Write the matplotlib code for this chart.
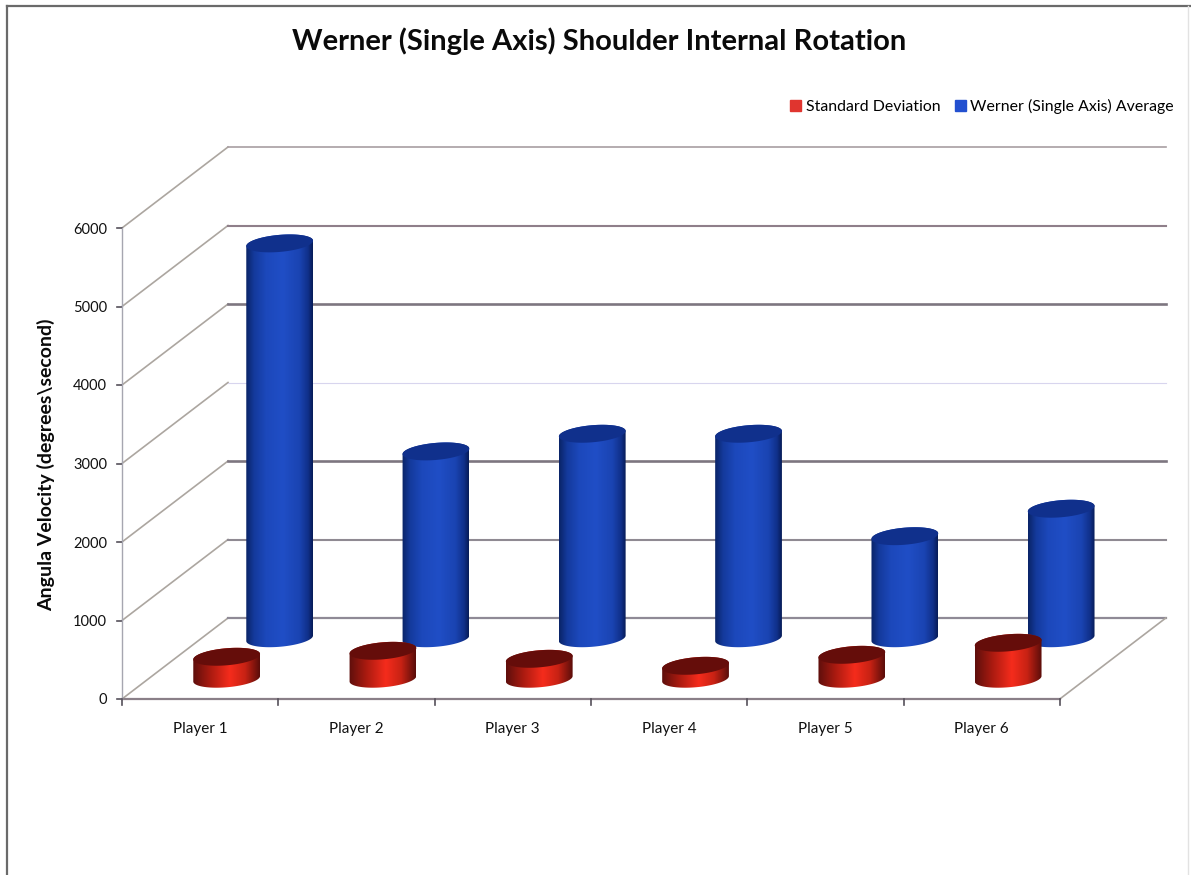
import numpy as np
import matplotlib
matplotlib.use('Agg')
import matplotlib.pyplot as plt
from matplotlib.colors import LinearSegmentedColormap
from matplotlib.patches import Patch, Polygon

plt.rcParams['font.family'] = ['Lato', 'DejaVu Sans']

players = ['Player 1', 'Player 2', 'Player 3', 'Player 4', 'Player 5', 'Player 6']
werner_avg = [5030, 2380, 2605, 2605, 1300, 1650]
std_dev = [280, 356, 254, 165, 305, 458]
y_ticks = [0, 1000, 2000, 3000, 4000, 5000, 6000]

# pixel geometry of the fake 3d box
x0 = 122
y0 = 699
cat_w = 156.3
px_per_unit = 78.5 / 1000
depth_x = 106
depth_y = 81


def project(cat, value, depth):
    # cat in category widths, value in data units, depth 0 (front) to 1 (back)
    return x0 + cat * cat_w + depth * depth_x, y0 - value * px_per_unit - depth * depth_y


def ellipse(cx, cy, a=33.5, b=8.5, angle=5):
    t = np.linspace(0, 2 * np.pi, 121)
    r = np.radians(angle)
    ex = a * np.cos(t)
    ey = b * np.sin(t)
    return cx + ex * np.cos(r) + ey * np.sin(r), cy - ex * np.sin(r) + ey * np.cos(r)


def cylinder(ax, i, value, depth, cmap, top_color, z):
    cx, base = project(i + 0.5, 0, depth)
    _, top = project(i + 0.5, value, depth)
    bx, by = ellipse(cx, base)
    tx, ty = ellipse(cx, top)
    # side outline: far half of the top joined to the near half of the base
    far = tx[60:121]
    far_y = ty[60:121]
    near = bx[0:61]
    near_y = by[0:61]
    body = Polygon(np.column_stack([np.r_[near, far], np.r_[near_y, far_y]]),
                   closed=True, facecolor='none', edgecolor='none', zorder=z)
    ax.add_patch(body)
    grad = np.linspace(0, 1, 200).reshape(1, -1)
    im = ax.imshow(grad, cmap=cmap, aspect='auto', zorder=z, interpolation='bilinear',
                   extent=[cx - 33.5, cx + 33.5, base + 12, top - 12])
    im.set_clip_path(body)
    ax.fill(tx, ty, color=top_color, lw=0, zorder=z + 0.1)


blue_map = LinearSegmentedColormap.from_list(
    'blue', [(0, '#0a2468'), (0.12, '#143a9c'), (0.3, '#1c48bb'), (0.55, '#204ec6'),
             (0.8, '#1a44b2'), (0.93, '#10308a'), (1, '#071c58')])
red_map = LinearSegmentedColormap.from_list(
    'red', [(0, '#5e0f0c'), (0.25, '#a81a10'), (0.55, '#f52c1c'), (0.78, '#c82214'), (1, '#5a0d0a')])

fig = plt.figure(figsize=(11.91, 8.75), dpi=100)
ax = fig.add_axes([0, 0, 1, 1])
ax.axis('off')

# page frame
ax.plot([7, 7], [875, 6], color='#6a6a6a', lw=1.6)
ax.plot([7, 1191], [6, 6], color='#6a6a6a', lw=1.6)
ax.plot([1188, 1188], [6, 875], color='#e2e2e2', lw=1)

# walls and gridlines
grid_style = {
    0: ('#8f8a96', 1.6), 1000: ('#8f8a92', 1.5), 2000: ('#7d7680', 1.9), 3000: ('#d8d5ee', 0.8),
    4000: ('#7d7680', 1.9), 5000: ('#8f7f8a', 1.5), 6000: ('#a89ea2', 1.2),
}
for v in y_ticks:
    c, lw = grid_style[v]
    fx, fy = project(0, v, 0)
    bx, by = project(0, v, 1)
    ex, ey = project(6, v, 1)
    ax.plot([fx, bx], [fy, by], color='#aca6a0', lw=1.2, zorder=1)
    ax.plot([bx, ex], [by, ey], color=c, lw=lw, zorder=1)
    ax.plot([fx - 5, fx], [fy, fy], color='#55505a', lw=1.2, zorder=1)
    ax.text(fx - 15, fy + 1.5, str(v), ha='right', va='center', fontsize=10.5, color='#111111')

# floor edges and axes
fx, fy = project(6, 0, 0)
bx, by = project(6, 0, 1)
ax.plot([fx, bx], [fy, by], color='#aca6a0', lw=1.2, zorder=1)
ax.plot([x0, fx], [y0, y0], color='#8a7f88', lw=1.6, zorder=1)
top_x, top_y = project(0, 6000, 0)
ax.plot([top_x, x0], [top_y, y0], color='#a6a6b0', lw=1, zorder=1)
for i in range(7):
    tx, ty = project(i, 0, 0)
    ax.plot([tx, tx], [ty, ty + 6], color='#55505a', lw=1.2, zorder=1)

for i, name in enumerate(players):
    tx, ty = project(i + 0.5, 0, 0)
    ax.text(tx, ty + 30, name, ha='center', va='center', fontsize=11, color='#111111')

# back row first so the red discs sit in front
for i, v in enumerate(werner_avg):
    cylinder(ax, i, v, 0.75, blue_map, '#10308c', 3)
for i, v in enumerate(std_dev):
    cylinder(ax, i, v, 0.25, red_map, '#650d0a', 4)

ax.set_xlim(0, 1191)
ax.set_ylim(875, 0)

ax.text(599, 41, 'Werner (Single Axis) Shoulder Internal Rotation', ha='center', va='center',
        fontsize=21, fontweight='bold', color='#0a0a0a')
ax.text(46, 465, 'Angula Velocity (degrees\\second)', rotation=90, ha='center', va='center',
        fontsize=14, fontweight='bold', color='#0a0a0a')

handles = [Patch(color='#e0352f'), Patch(color='#2350d0')]
ax.legend(handles, ['Standard Deviation', 'Werner (Single Axis) Average'], ncol=2, frameon=False,
          loc='center right', bbox_to_anchor=(0.9857, 0.8785), fontsize=11.4, handlelength=0.7,
          handleheight=0.7, handletextpad=0.3, columnspacing=0.9, borderpad=0, borderaxespad=0)

fig.savefig('out.png', dpi=100)
